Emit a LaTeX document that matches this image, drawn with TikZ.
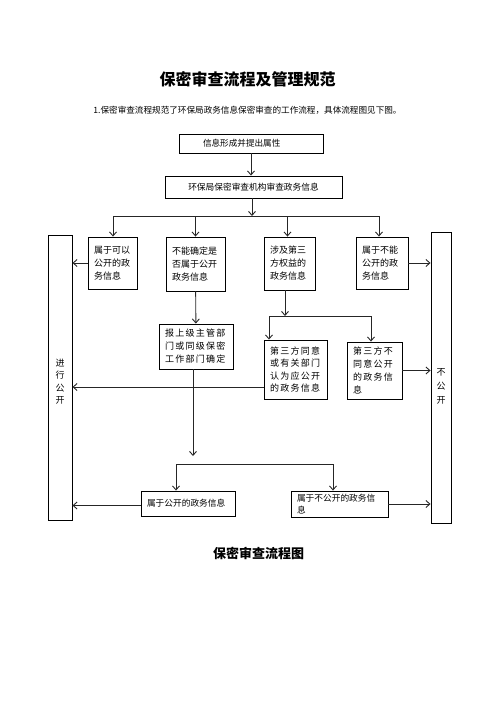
\documentclass[tikz,border=0pt]{standalone}
\usepackage{fontspec}
\setmainfont{Noto Sans CJK SC}
\newfontfamily\widecjk[LetterSpace=14]{Noto Sans CJK SC}
\usetikzlibrary{arrows.meta}

\begin{document}
\begin{tikzpicture}[x=1pt, y=-1pt,
    block/.style={draw, line width=0.9pt, rectangle, inner xsep=6pt, inner ysep=0pt, align=left, font=\fontsize{9}{13}\selectfont},
    sidebar/.style={draw, line width=0.9pt, rectangle, inner sep=0pt, minimum width=22pt},
    arrow/.style={line width=0.9pt, draw=black!85, -{Straight Barb[length=4pt,width=7pt]}},
    link/.style={line width=0.9pt, draw=black!85}
]
    \useasboundingbox (0,0) rectangle (496,702);

    % Draw nodes
    \node[font=\fontsize{16}{16}\selectfont\bfseries] (title) at (247.5,79) {保密审查流程及管理规范};
    \node[font=\fontsize{8.6}{10}\selectfont] (intro) at (247.5,110) {1.保密审查流程规范了环保局政务信息保密审查的工作流程，具体流程图见下图。};

    \node[block, text width=96pt, inner xsep=24pt, minimum height=19pt, font=\fontsize{8.6}{10}\selectfont] (info) at (251,143.5) {信息形成并提出属性};
    \node[block, text width=165pt, align=center, minimum height=22pt, font=\fontsize{8.7}{10}\selectfont] (review) at (253.5,187) {环保局保密审查机构审查政务信息};

    \node[block, text width=37pt, minimum height=52pt] (canopen) at (112.5,263) {属于可以\\公开的政\\务信息};
    \node[block, text width=47pt, minimum height=54pt] (unsure) at (195.5,264) {不能确定是\\否属于公开\\政务信息};
    \node[block, text width=39pt, minimum height=53pt] (third) at (289.5,263.5) {涉及第三\\方权益的\\政务信息};
    \node[block, text width=40pt, minimum height=52pt] (cannot) at (382,263) {属于不能\\公开的政\\务信息};

    \node[block, text width=62pt, minimum height=45pt, font=\fontsize{9}{13}\widecjk] (report) at (196,346.5) {报上级主管部\\门或同级保密\\工作部门确定};
    \node[block, text width=51pt, minimum height=59pt, font=\fontsize{9}{12.5}\widecjk] (agree) at (295.5,369.5) {第三方同意\\或有关部门\\认为应公开\\的政务信息};
    \node[block, text width=43pt, minimum height=57pt, font=\fontsize{9}{12.7}\widecjk] (refuse) at (374.5,370.5) {第三方不\\同意公开\\的政务信\\息};

    \node[block, text width=82pt, minimum height=25pt, font=\fontsize{8.7}{10}\selectfont] (pubfinal) at (188,503.5) {属于公开的政务信息};
    \node[block, text width=85pt, minimum height=26pt, font=\fontsize{8.7}{11.5}\selectfont] (secfinal) at (339.5,504) {属于不公开的政务信\\息};

    \node[sidebar, minimum width=24pt, minimum height=285pt,
          label={[font=\fontsize{9}{12.5}\selectfont, align=center, yshift=-4pt]center:进\\行\\公\\开}] (open) at (60,377.5) {};
    \node[sidebar, minimum width=20pt, minimum height=291pt,
          label={[font=\fontsize{9}{14}\selectfont, align=center, yshift=-8.5pt]center:不\\公\\开}] (closed) at (441,377.5) {};

    \node[font=\fontsize{13}{13}\selectfont\bfseries] (caption) at (258.5,553) {保密审查流程图};

    % Junctions
    \coordinate (split) at (252,216);
    \coordinate (splitl) at (113,216);
    \coordinate (splitr) at (379,216);
    \coordinate (tsplit) at (285,316);
    \coordinate (tsplitl) at (269,316);
    \coordinate (tsplitr) at (371,316);
    \coordinate (etip) at (193,456);
    \coordinate (esplitl) at (176,464);
    \coordinate (esplitr) at (333,464);

    % Draw connections
    \draw [arrow] (info) -- (info.south |- review.north);
    \draw [arrow] (review.south -| split) -- (split);
    \draw [link] (splitl) -- (splitr);
    \draw [arrow] (splitl) -- (splitl |- canopen.north);
    \draw [arrow] (unsure.north |- split) -- (unsure.north);
    \draw [arrow] ([xshift=-2pt]third.north |- split) -- ([xshift=-2pt]third.north);
    \draw [arrow] (splitr) -- (splitr |- cannot.north);

    \draw [arrow] (canopen.west) -- (canopen.west -| open.east);
    \draw [arrow] (cannot.east) -- (cannot.east -| closed.west);

    \draw [arrow] (unsure) -- (report);
    \draw [arrow] (tsplit |- third.south) -- (tsplit);
    \draw [link] (tsplitl) -- (tsplitr);
    \draw [arrow] (tsplitl) -- (tsplitl |- agree.north);
    \draw [arrow] (tsplitr) -- (tsplitr |- refuse.north);

    \draw [arrow] ([yshift=-17.5pt]agree.west) -- ([yshift=-17.5pt]agree.west -| open.east);
    \draw [arrow] (refuse.east) -- (refuse.east -| closed.west);

    \draw [arrow] (report.south -| etip) -- (etip);
    \draw [link] (esplitl) -- (esplitr);
    \draw [arrow] (esplitl) -- (esplitl |- pubfinal.north);
    \draw [arrow] (esplitr) -- (esplitr |- secfinal.north);

    \draw [arrow] ([yshift=-2pt]pubfinal.west) -- ([yshift=-2pt]pubfinal.west -| open.east);
    \draw [arrow] (secfinal.east) -- (secfinal.east -| closed.west);
\end{tikzpicture}
\end{document}
